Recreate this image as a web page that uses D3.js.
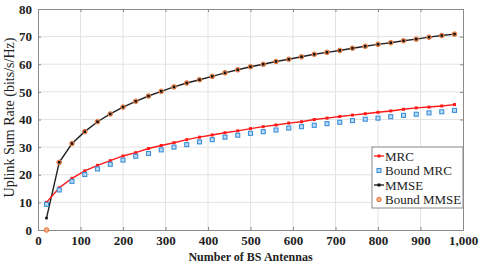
<!DOCTYPE html>
<html>
<head>
<meta charset="utf-8">
<script src="https://cdn.jsdelivr.net/npm/d3@7"></script>
<style>
  body { margin: 0; background: #fff; }
  svg { display: block; }
  svg text { font-family: "Liberation Serif", "DejaVu Serif", serif !important; }
</style>
</head>
<body>
<div id="chart"></div>
<script>
// antenna counts (x values)
const antennas = [20, 50, 80, 110, 140, 170, 200, 230, 260, 290, 320, 350, 380, 410, 440, 470, 500,
  530, 560, 590, 620, 650, 680, 710, 740, 770, 800, 830, 860, 890, 920, 950, 980];

const mrc = [10.0, 15.3, 18.7, 21.4, 23.4, 25.1, 26.8, 28.0, 29.5, 30.6, 31.6, 32.7, 33.6, 34.4, 35.2, 35.9, 36.7,
  37.4, 38.0, 38.7, 39.2, 40.0, 40.5, 41.1, 41.6, 42.1, 42.6, 43.1, 43.7, 44.2, 44.5, 44.9, 45.4];

const boundMrc = [9.3, 14.5, 17.6, 20.1, 22.1, 23.8, 25.3, 26.7, 27.7, 29.0, 30.0, 30.9, 31.9, 32.7, 33.6, 34.3, 35.0,
  35.6, 36.2, 36.9, 37.4, 37.9, 38.5, 39.0, 39.6, 40.1, 40.5, 41.0, 41.5, 41.9, 42.4, 42.8, 43.3];

const mmse = [4.3, 24.5, 31.3, 35.6, 39.2, 42.0, 44.5, 46.6, 48.5, 50.2, 51.8, 53.2, 54.4, 55.6, 56.9, 58.0, 59.1,
  60.0, 61.0, 61.8, 62.7, 63.6, 64.3, 65.0, 65.8, 66.5, 67.2, 67.8, 68.5, 69.1, 69.8, 70.4, 70.9];

const boundMmse = [0.0, 24.5, 31.3, 35.6, 39.2, 42.0, 44.5, 46.6, 48.5, 50.2, 51.8, 53.2, 54.4, 55.6, 56.9, 58.0, 59.1,
  60.0, 61.0, 61.8, 62.7, 63.6, 64.3, 65.0, 65.8, 66.5, 67.2, 67.8, 68.5, 69.1, 69.8, 70.4, 70.9];

const xTicks = [0, 100, 200, 300, 400, 500, 600, 700, 800, 900, 1000];
const yTicks = [0, 10, 20, 30, 40, 50, 60, 70, 80];

const width = 480, height = 268;
const margin = { top: 9, right: 17, bottom: 38, left: 38 };
const innerW = width - margin.left - margin.right;
const innerH = height - margin.top - margin.bottom;
const serif = "'Liberation Serif', 'DejaVu Serif', serif";

const svg = d3.select("#chart").append("svg")
  .attr("width", width)
  .attr("height", height);

const g = svg.append("g")
  .attr("transform", `translate(${margin.left},${margin.top})`);

const x = d3.scaleLinear().domain([0, 1000]).range([0, innerW]);
const y = d3.scaleLinear().domain([0, 80]).range([innerH, 0]);

// grid
g.append("g").selectAll("line").data(xTicks.slice(1, -1)).join("line")
  .attr("x1", d => x(d)).attr("x2", d => x(d))
  .attr("y1", 0).attr("y2", innerH)
  .attr("stroke", "#e3e3e3").attr("stroke-width", 1);
g.append("g").selectAll("line").data(yTicks.slice(1, -1)).join("line")
  .attr("y1", d => y(d)).attr("y2", d => y(d))
  .attr("x1", 0).attr("x2", innerW)
  .attr("stroke", "#e3e3e3").attr("stroke-width", 1);

// axes (ticks inside)
g.append("g")
  .attr("transform", `translate(0,${innerH})`)
  .call(d3.axisBottom(x).tickValues(xTicks).tickSize(-3).tickPadding(6));
g.append("g")
  .call(d3.axisLeft(y).tickValues(yTicks).tickSize(-3).tickPadding(6));
g.append("g")
  .call(d3.axisTop(x).tickValues(xTicks).tickSize(-3).tickFormat(""));
g.append("g")
  .attr("transform", `translate(${innerW},0)`)
  .call(d3.axisRight(y).tickValues(yTicks).tickSize(-3).tickFormat(""));

g.selectAll("g").attr("font-family", serif);
g.selectAll(".domain").attr("stroke", "#8a8a8a");
g.selectAll(".tick line").attr("stroke", "#8a8a8a");
g.selectAll(".tick text")
  .attr("fill", "#222")
  .attr("font-family", serif)
  .attr("font-size", 13)
  .attr("font-weight", "bold");

// axis titles
svg.append("text")
  .attr("x", margin.left + innerW / 2)
  .attr("y", height - 7)
  .attr("text-anchor", "middle")
  .attr("font-family", serif)
  .attr("font-size", 12)
  .attr("font-weight", "bold")
  .attr("fill", "#222")
  .text("Number of BS Antennas");

svg.append("text")
  .attr("transform", `translate(14,${margin.top + innerH / 2 - 2}) rotate(-90)`)
  .attr("text-anchor", "middle")
  .attr("font-family", serif)
  .attr("font-size", 14)
  .attr("fill", "#222")
  .text("Uplink Sum Rate (bits/s/Hz)");

const line = d3.line()
  .x(d => x(d[0]))
  .y(d => y(d[1]));

const zip = vals => antennas.map((a, i) => [a, vals[i]]);

// MMSE line
g.append("path").datum(zip(mmse))
  .attr("fill", "none").attr("stroke", "#222").attr("stroke-width", 1.4)
  .attr("d", line);

// Bound MMSE circles
g.append("g").selectAll("circle").data(zip(boundMmse)).join("circle")
  .attr("cx", d => x(d[0])).attr("cy", d => y(d[1]))
  .attr("r", 2.3)
  .attr("fill", "#f4b08a").attr("stroke", "#e8702f").attr("stroke-width", 1);

// MMSE markers
g.append("g").selectAll("rect").data(zip(mmse)).join("rect")
  .attr("x", d => x(d[0]) - 1.3).attr("y", d => y(d[1]) - 1.3)
  .attr("width", 2.6).attr("height", 2.6)
  .attr("fill", "#111");

// MRC line
g.append("path").datum(zip(mrc))
  .attr("fill", "none").attr("stroke", "#ff1a1a").attr("stroke-width", 1.4)
  .attr("d", line);
g.append("g").selectAll("rect").data(zip(mrc)).join("rect")
  .attr("x", d => x(d[0]) - 1.5).attr("y", d => y(d[1]) - 1.5)
  .attr("width", 3).attr("height", 3)
  .attr("fill", "#ff1a1a");

// Bound MRC squares
g.append("g").selectAll("rect").data(zip(boundMrc)).join("rect")
  .attr("x", d => x(d[0]) - 2).attr("y", d => y(d[1]) - 2)
  .attr("width", 4).attr("height", 4)
  .attr("fill", "#bcdcf5").attr("stroke", "#3b8fd9").attr("stroke-width", 1.1);

// legend
const legend = svg.append("g").attr("transform", "translate(372,147)");
legend.append("rect")
  .attr("width", 91).attr("height", 61)
  .attr("fill", "#fff").attr("stroke", "#8a8a8a").attr("stroke-width", 1);

const items = [
  { label: "MRC", type: "line", color: "#ff1a1a" },
  { label: "Bound MRC", type: "square", color: "#3b8fd9" },
  { label: "MMSE", type: "line", color: "#111" },
  { label: "Bound MMSE", type: "circle", color: "#e8702f" }
];

items.forEach((it, i) => {
  const cy = 9 + i * 14.5;
  const row = legend.append("g").attr("transform", `translate(0,${cy})`);
  if (it.type === "line") {
    row.append("line").attr("x1", 2).attr("x2", 12).attr("y1", 0).attr("y2", 0)
      .attr("stroke", it.color).attr("stroke-width", 1.3);
    row.append("rect").attr("x", 5.5).attr("y", -1.5).attr("width", 3).attr("height", 3)
      .attr("fill", it.color);
  } else if (it.type === "square") {
    row.append("rect").attr("x", 5).attr("y", -2).attr("width", 4).attr("height", 4)
      .attr("fill", "#bcdcf5").attr("stroke", it.color).attr("stroke-width", 1.1);
  } else {
    row.append("circle").attr("cx", 7).attr("cy", 0).attr("r", 2.2)
      .attr("fill", "#f4b08a").attr("stroke", it.color).attr("stroke-width", 1);
  }
  row.append("text").attr("x", 13).attr("y", 4.5)
    .attr("font-family", serif)
    .attr("font-size", 13).attr("fill", "#222")
    .text(it.label);
});
</script>
</body>
</html>
